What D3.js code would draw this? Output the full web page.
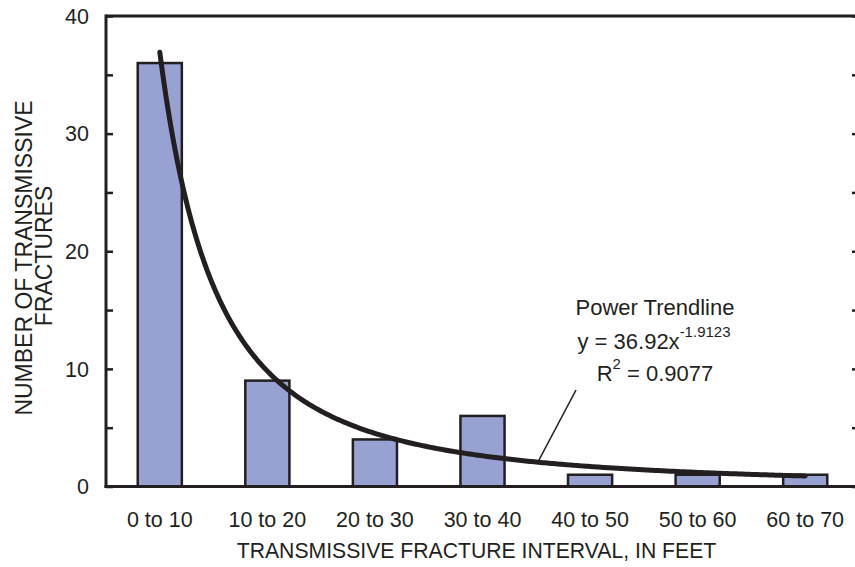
<!DOCTYPE html>
<html>
<head>
<meta charset="utf-8">
<script src="https://cdn.jsdelivr.net/npm/d3@7"></script>
<style>
  html, body { margin: 0; padding: 0; background: #fff; }
  svg { display: block; }
  text { font-family: "Liberation Sans", Arial, Helvetica, sans-serif; fill: #231f20; }
</style>
</head>
<body>
<svg id="chart" width="855" height="567"></svg>
<script>
// Fracture counts per depth interval
const categories = ["0 to 10", "10 to 20", "20 to 30", "30 to 40", "40 to 50", "50 to 60", "60 to 70"];
const counts = [36, 9, 4, 6, 1, 1, 1];
const yTicks = [0, 10, 20, 30, 40];
const yMinorTicks = [5, 15, 25, 35];

// Power trendline y = a * x^b, x = interval index (1..7)
const trendA = 36.92;
const trendB = -1.9123;
const trendR2 = "0.9077";

const svg = d3.select("#chart");
const ink = "#231f20";

const plotLeft = 106, plotRight = 859, plotTop = 16, plotBottom = 486.5;

const x = d3.scaleBand()
  .domain(categories)
  .range([plotLeft, plotRight])
  .paddingInner(0.59)
  .paddingOuter(0.295);

const y = d3.scaleLinear().domain([0, 40]).range([plotBottom, plotTop]);

// Bars
svg.append("g").selectAll("rect")
  .data(counts)
  .join("rect")
  .attr("x", (d, i) => x(categories[i]))
  .attr("y", d => y(d))
  .attr("width", x.bandwidth())
  .attr("height", d => y(0) - y(d))
  .attr("fill", "#98a2d2")
  .attr("stroke", ink)
  .attr("stroke-width", 2.5);

// Trendline
const xIdx = d3.scaleLinear()
  .domain([1, categories.length])
  .range([x(categories[0]) + x.bandwidth() / 2, x(categories[categories.length - 1]) + x.bandwidth() / 2]);
const curvePts = d3.range(1, categories.length + 0.0001, 0.02).map(t => [t, trendA * Math.pow(t, trendB)]);
svg.append("path")
  .datum(curvePts)
  .attr("fill", "none")
  .attr("stroke", ink)
  .attr("stroke-width", 5)
  .attr("stroke-linecap", "round")
  .attr("d", d3.line().x(d => xIdx(d[0])).y(d => y(d[1])));

// Frame: left, top, bottom, right lines
const frame = svg.append("g").attr("stroke", ink).attr("stroke-width", 3).attr("fill", "none");
frame.append("path").attr("d", `M${plotLeft},${plotTop}H${plotRight + 2}`);
frame.append("path").attr("d", `M${plotLeft},${plotTop - 1.5}V${plotBottom + 1.5}`);
frame.append("path").attr("d", `M${plotLeft - 1.5},${plotBottom}H${plotRight + 2}`);
frame.append("path").attr("d", `M${plotRight},${plotTop}V${plotBottom}`);

// Left axis (ticks pointing inward)
const yAxisL = svg.append("g").attr("transform", `translate(${plotLeft},0)`)
  .call(d3.axisRight(y).tickValues(yTicks.concat(yMinorTicks)).tickSize(7).tickFormat(""));
yAxisL.select(".domain").remove();
yAxisL.selectAll("line").attr("stroke", ink).attr("stroke-width", 2.5);

// Right axis (ticks pointing inward)
const yAxisR = svg.append("g").attr("transform", `translate(${plotRight},0)`)
  .call(d3.axisLeft(y).tickValues(yTicks.concat(yMinorTicks)).tickSize(7).tickFormat(""));
yAxisR.select(".domain").remove();
yAxisR.selectAll("line").attr("stroke", ink).attr("stroke-width", 2.5);

// Y tick labels
svg.append("g").selectAll("text")
  .data(yTicks)
  .join("text")
  .attr("x", 89)
  .attr("y", d => y(d))
  .attr("dy", "0.36em")
  .attr("text-anchor", "end")
  .attr("font-size", 21.5)
  .text(d => d);

// X tick labels
svg.append("g").selectAll("text")
  .data(categories)
  .join("text")
  .attr("x", d => x(d) + x.bandwidth() / 2)
  .attr("y", 527)
  .attr("text-anchor", "middle")
  .attr("font-size", 21.5)
  .text(d => d);

// Axis titles
svg.append("text")
  .attr("x", 476.5).attr("y", 558)
  .attr("text-anchor", "middle")
  .attr("font-size", 21.2)
  .text("TRANSMISSIVE FRACTURE INTERVAL, IN FEET");

svg.append("text")
  .attr("transform", "translate(32,258) rotate(-90)")
  .attr("text-anchor", "middle")
  .attr("font-size", 23)
  .text("NUMBER OF TRANSMISSIVE");
svg.append("text")
  .attr("transform", "translate(52,256) rotate(-90)")
  .attr("text-anchor", "middle")
  .attr("font-size", 23)
  .text("FRACTURES");

// Trendline annotation
const note = svg.append("g").attr("font-size", 22).attr("text-anchor", "middle");
note.append("text").attr("x", 655).attr("y", 315).text("Power Trendline");
const eq = note.append("text").attr("x", 654).attr("y", 349);
eq.append("tspan").text(`y = ${trendA}x`);
eq.append("tspan").attr("dy", -12).attr("font-size", 15).text(trendB);
const r2 = note.append("text").attr("x", 655).attr("y", 381);
r2.append("tspan").text("R");
r2.append("tspan").attr("dy", -12).attr("font-size", 15).text("2");
r2.append("tspan").attr("dy", 12).text(` = ${trendR2}`);

// Leader line from label to curve
svg.append("line")
  .attr("x1", 576).attr("y1", 390)
  .attr("x2", 539).attr("y2", 460)
  .attr("stroke", ink).attr("stroke-width", 1.6);
</script>
</body>
</html>
